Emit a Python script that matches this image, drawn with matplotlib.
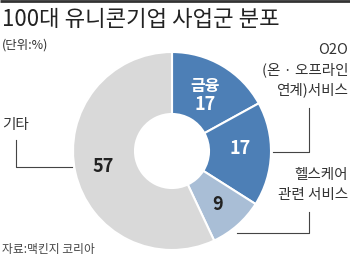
import matplotlib
matplotlib.use('Agg')
from matplotlib import pyplot as plt

plt.rcParams['font.family'] = ['Noto Sans CJK KR', 'DejaVu Sans']

# data
labels = ['금융', 'O2O', '헬스케어', '기타']
values = [17, 17, 9, 57]
colors = ['#4d7fb6', '#4d7fb6', '#a9bed6', '#d9d9d9']

W, H = 350, 259
fig = plt.figure(figsize=(W / 100, H / 100), dpi=100)
ax = fig.add_axes([0, 0, 1, 1])

def Y(y):
    return H - y

cx, cy, R, r = 172, 151, 99, 37
wedges, _ = ax.pie(values, colors=colors, startangle=90, counterclock=False,
                   center=(cx, Y(cy)), radius=R, frame=True,
                   wedgeprops=dict(width=R - r, edgecolor='white', linewidth=1.5))
ax.set_xlim(0, W)
ax.set_ylim(0, H)
ax.set_aspect('equal')
ax.axis('off')

# top rule
ax.plot([0, W], [Y(0.8), Y(0.8)], color='#333333', lw=2, solid_capstyle='butt')

ax.text(2, Y(19), '100대 유니콘기업 사업군 분포', fontsize=16, va='center', ha='left', color='#222222')
ax.text(2, Y(45), '(단위:%)', fontsize=9, va='center', ha='left', color='#333333')

# numbers inside
ax.text(205, Y(86), '금융', fontsize=11.5, va='center', ha='center', color='white', fontweight='bold')
ax.text(205, Y(104), str(values[0]), fontsize=13, va='center', ha='center', color='white', fontweight='bold')
ax.text(240, Y(149), str(values[1]), fontsize=13, va='center', ha='center', color='white', fontweight='bold')
ax.text(218, Y(204), str(values[2]), fontsize=13, va='center', ha='center', color='#222222', fontweight='bold')
ax.text(103, Y(167), str(values[3]), fontsize=13, va='center', ha='center', color='#222222', fontweight='bold')

# outside labels
lab_kw = dict(fontsize=10.5, ha='right', va='center', color='#333333')
ax.text(348, Y(50), 'O2O', **lab_kw)
ax.text(348, Y(70), '(온 · 오프라인', **lab_kw)
ax.text(348, Y(90), '연계)서비스', **lab_kw)
ax.text(348, Y(175), '헬스케어', **lab_kw)
ax.text(348, Y(195), '관련 서비스', **lab_kw)
ax.text(2, Y(125), '기타', fontsize=10.5, ha='left', va='center', color='#333333')

line_kw = dict(color='#444444', lw=0.8)
ax.plot([309, 309, 273], [Y(108), Y(152), Y(152)], **line_kw)
ax.plot([309, 309, 237], [Y(212), Y(233), Y(233)], **line_kw)
ax.plot([16, 16, 72], [Y(140), Y(167), Y(167)], **line_kw)

ax.text(2, Y(250), '자료:맥킨지 코리아', fontsize=8.5, ha='left', va='center', color='#444444')

fig.savefig('out.png', dpi=100)
